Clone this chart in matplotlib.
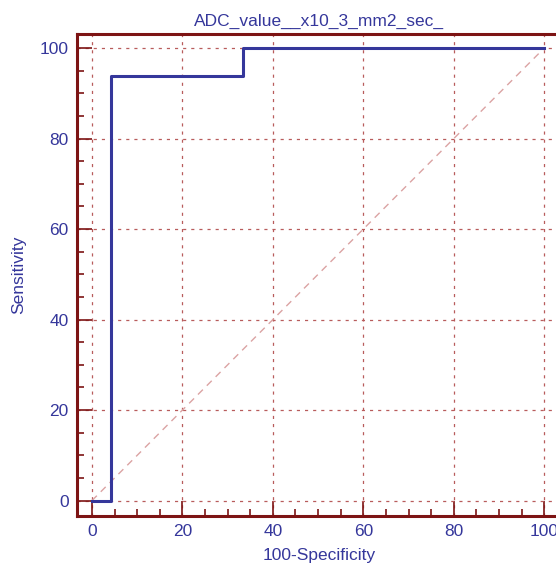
import matplotlib.pyplot as plt
from matplotlib.ticker import MultipleLocator

plt.rcParams['font.family'] = ['Liberation Sans', 'DejaVu Sans']

# ROC step curve (100-specificity, sensitivity)
fpr = [0, 4.17, 4.17, 33.3, 33.3, 100]
tpr = [0, 0, 93.75, 93.75, 100, 100]
diag = [0, 100]
ticks = [0, 20, 40, 60, 80, 100]

blue = '#35379b'
red = '#7d1414'

fig = plt.figure(figsize=(5.56, 5.68), dpi=100)
ax = fig.add_axes([77/556, (568-516)/568, (561-77)/556, (516-34)/568])

ax.plot(diag, diag, color='#dba3a3', lw=1.0, ls=(0, (5, 4)), zorder=2)
ax.plot(fpr, tpr, color=blue, lw=2.2, zorder=3)

ax.set_xlim(-3.3, 103.7)
ax.set_ylim(-3.4, 103.1)
ax.set_xticks(ticks)
ax.set_yticks(ticks)
ax.xaxis.set_minor_locator(MultipleLocator(5))
ax.yaxis.set_minor_locator(MultipleLocator(5))
ax.grid(True, which='major', color='#b85c5c', ls=(0, (2.5, 4)), lw=0.9)

for s in ['left', 'bottom', 'top', 'right']:
    ax.spines[s].set_color(red)
    ax.spines[s].set_linewidth(2.2)

ax.tick_params(which='major', direction='in', length=11, width=1.2, color=red,
               labelcolor=blue, labelsize=12.5, pad=6, top=False, right=False)
ax.tick_params(which='minor', direction='in', length=5, width=1.2, color=red,
               top=False, right=False)

ax.set_xlabel('100-Specificity', color=blue, fontsize=12.5, labelpad=6)
ax.set_ylabel('Sensitivity', color=blue, fontsize=12.5, labelpad=10)
ax.set_title('ADC_value__x10_3_mm2_sec_', color=blue, fontsize=12.5, pad=6)

fig.savefig('out.png', dpi=100)
